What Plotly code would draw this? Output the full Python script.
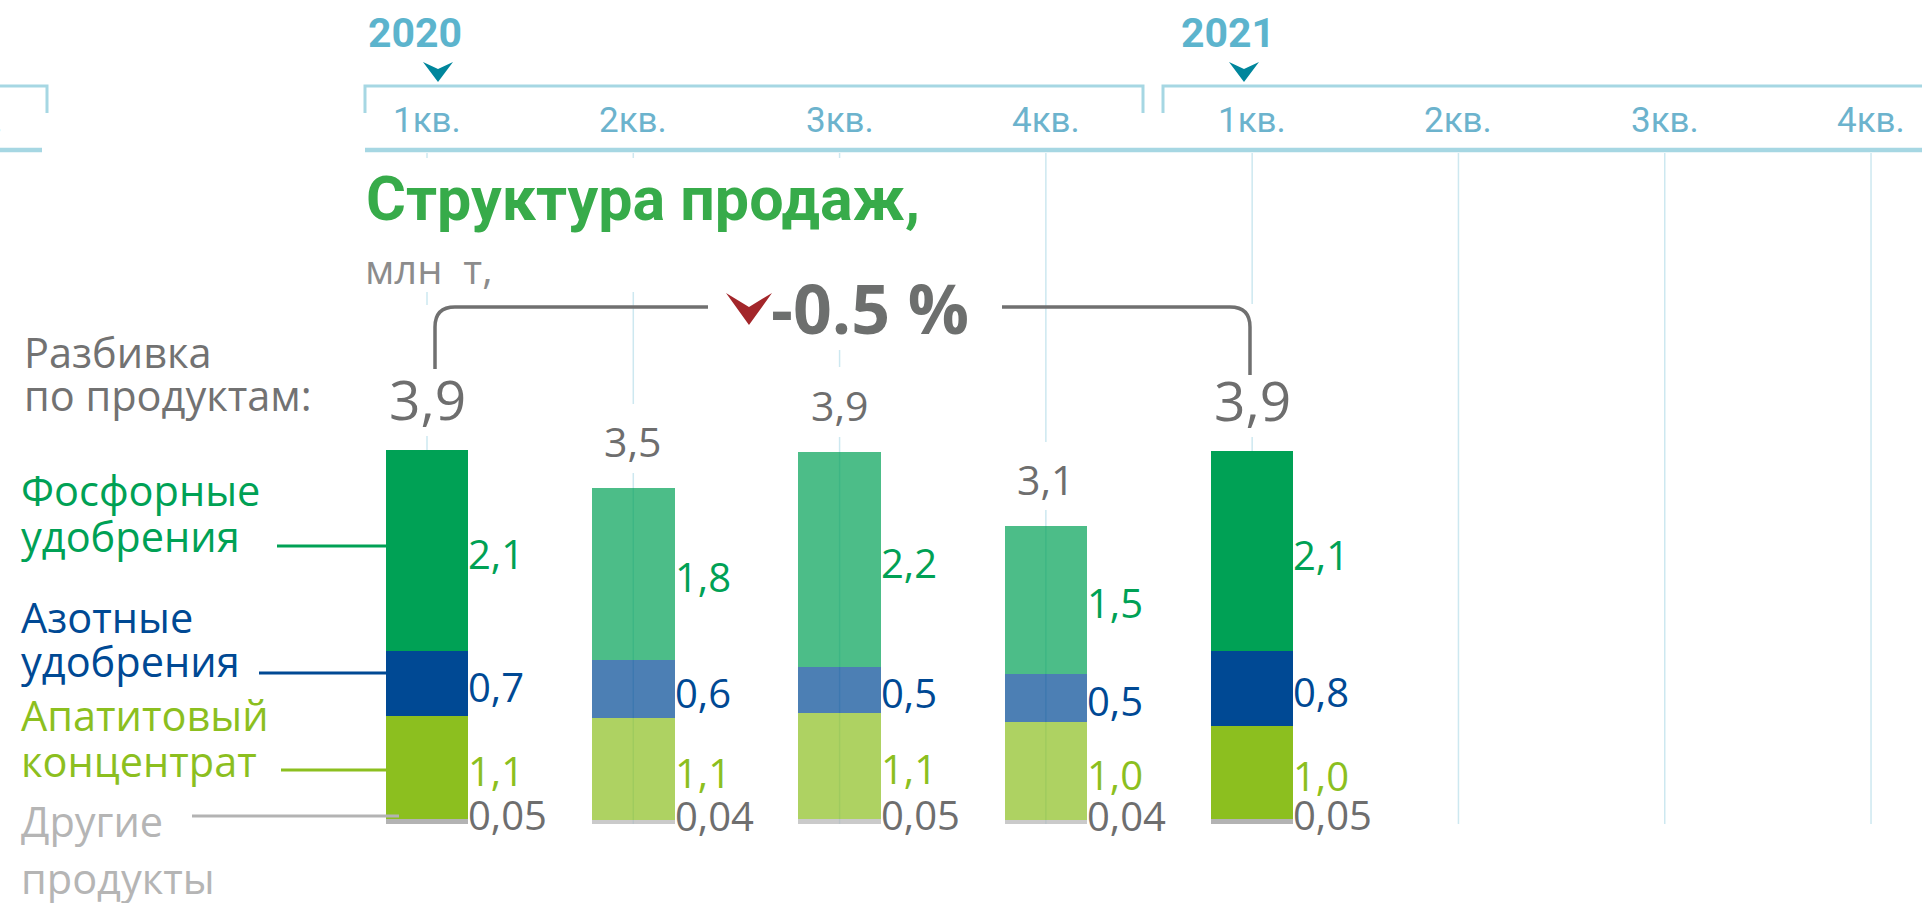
import plotly.graph_objects as go

W, H = 1922, 903

# ---------------- data ----------------
quarters = ["1кв.", "2кв.", "3кв.", "4кв.", "1кв.", "2кв.", "3кв.", "4кв."]
years = ["2020", "2021"]
bar_x = [0, 1, 2, 3, 4]
totals_lbl = ["3,9", "3,5", "3,9", "3,1", "3,9"]
other_vals = [0.05, 0.04, 0.05, 0.04, 0.05]
apatite_vals = [1.09, 1.08, 1.13, 1.04, 0.99]
nitrogen_vals = [0.69, 0.62, 0.48, 0.51, 0.79]
phosphate_vals = [2.13, 1.82, 2.28, 1.57, 2.12]
other_lbl = ["0,05", "0,04", "0,05", "0,04", "0,05"]
apatite_lbl = ["1,1", "1,1", "1,1", "1,0", "1,0"]
nitrogen_lbl = ["0,7", "0,6", "0,5", "0,5", "0,8"]
phosphate_lbl = ["2,1", "1,8", "2,2", "1,5", "2,1"]
change_lbl = "-0.5 %"
title_txt = "Структура продаж,"
unit_txt = "млн  т,"
series_names = ["Другие продукты", "Апатитовый концентрат", "Азотные удобрения", "Фосфорные удобрения"]

# ---------------- styling ----------------
C_GREEN = "#00a155"
C_BLUE = "#004994"
C_LIME = "#8cbf1f"
C_GRAY = "#b3b3b3"
C_TXT = "#6e6e6e"
C_TL = "#a6d7e3"
C_Q = "#6cb3cd"
C_GRID = "#cde8f0"
bar_opacity = [1, 0.7, 0.7, 0.7, 1]

X0, DX = 427.0, 206.29   # pixel of quarter 0, pixels per quarter
Y0, DY = 824.0, 94.4     # pixel of zero, pixels per unit


def fx(p):
    return p / W


def fy(p):
    return 1 - p / H


def path(points_cmds):
    out = []
    for cmd in points_cmds:
        c = cmd[0]
        nums = cmd[1:]
        coords = []
        for i in range(0, len(nums), 2):
            coords.append(f"{fx(nums[i]):.6f},{fy(nums[i+1]):.6f}")
        out.append(c + " " + " ".join(coords))
    return " ".join(out)


fig = go.Figure()

stack = [other_vals, apatite_vals, nitrogen_vals, phosphate_vals]
colors = [C_GRAY, C_LIME, C_BLUE, C_GREEN]
for name, vals, col in zip(series_names, stack, colors):
    fig.add_trace(go.Bar(x=bar_x, y=vals, name=name, width=0.4,
                         marker=dict(color=col, opacity=bar_opacity, line=dict(width=0)),
                         hoverinfo="skip"))

shapes = []
# vertical grid lines
for i in range(len(quarters)):
    shapes.append(dict(type="line", xref="x", yref="paper", x0=i, x1=i,
                       y0=fy(Y0), y1=fy(153), line=dict(color=C_GRID, width=1.5), layer="below"))
# white occluders hiding grid lines behind texts
occ = [(360, 930, 158, 292), (700, 990, 292, 350),
       (415, 440, 305, 436), (620, 645, 404, 473), (826, 851, 367, 437),
       (1033, 1058, 442, 510), (1240, 1264, 304, 437)]
for a, b, c, d in occ:
    shapes.append(dict(type="rect", xref="paper", yref="paper", x0=fx(a), x1=fx(b),
                       y0=fy(d), y1=fy(c), fillcolor="white", line=dict(width=0), layer="below"))

# timeline brackets
tl = dict(color=C_TL, width=3)
shapes.append(dict(type="path", xref="paper", yref="paper",
                   path=path([("M", 365, 113), ("L", 365, 86), ("L", 1143, 86), ("L", 1143, 113)]), line=tl))
shapes.append(dict(type="path", xref="paper", yref="paper",
                   path=path([("M", 1163, 113), ("L", 1163, 86), ("L", 1930, 86)]), line=tl))
shapes.append(dict(type="path", xref="paper", yref="paper",
                   path=path([("M", -5, 86), ("L", 47, 86), ("L", 47, 113)]), line=tl))
shapes.append(dict(type="line", xref="paper", yref="paper", x0=fx(365), x1=fx(1930),
                   y0=fy(150), y1=fy(150), line=dict(color=C_TL, width=4.5)))
shapes.append(dict(type="line", xref="paper", yref="paper", x0=fx(-5), x1=fx(42),
                   y0=fy(150), y1=fy(150), line=dict(color=C_TL, width=4.5)))
# teal year chevrons
for cx in (438, 1244):
    shapes.append(dict(type="path", xref="paper", yref="paper",
                       path=path([("M", cx - 15, 62), ("L", cx, 69), ("L", cx + 15, 62), ("L", cx, 82)]) + " Z",
                       fillcolor="#00869c", line=dict(width=0)))

# comparison bracket
gl = dict(color="#707070", width=3.5)
shapes.append(dict(type="path", xref="paper", yref="paper",
                   path=path([("M", 435, 369), ("L", 435, 327), ("Q", 435, 307, 455, 307), ("L", 708, 307)]),
                   line=gl, layer="above"))
shapes.append(dict(type="path", xref="paper", yref="paper",
                   path=path([("M", 1002, 307), ("L", 1230, 307), ("Q", 1250, 307, 1250, 327), ("L", 1250, 375)]),
                   line=gl, layer="above"))
# red chevron
shapes.append(dict(type="path", xref="paper", yref="paper",
                   path=path([("M", 726, 293), ("L", 749, 307), ("L", 772, 293), ("L", 749, 325)]) + " Z",
                   fillcolor="#a3262a", line=dict(width=0)))

# legend leader lines
for (xa, xb, yy, col) in [(277, 386, 546, C_GREEN), (259, 386, 673, C_BLUE),
                          (281, 386, 770, C_LIME), (192, 399, 816, C_GRAY)]:
    shapes.append(dict(type="line", xref="paper", yref="paper", x0=fx(xa), x1=fx(xb),
                       y0=fy(yy), y1=fy(yy), line=dict(color=col, width=3), layer="above"))

ann = []


def add(text, x, y, size, color, family="Open Sans", bold=False, xanchor="left",
        yanchor="middle", xref="paper", yref="paper", yshift=0, xshift=0):
    t = f"<b>{text}</b>" if bold else text
    ann.append(dict(text=t, x=x, y=y, xref=xref, yref=yref, xanchor=xanchor, yanchor=yanchor,
                    showarrow=False, font=dict(size=size, color=color, family=family),
                    yshift=yshift, xshift=xshift, borderpad=0))


COND = "Roboto"
# years
add(years[0], fx(415), fy(33), 41, "#5cb4cd", COND, True, "center")
add(years[1], fx(1228), fy(33), 41, "#5cb4cd", COND, True, "center")
# quarter labels
for i, q in enumerate(quarters):
    add(q, i, fy(121), 35, C_Q, COND, False, "center", xref="x")
add("4кв.", fx(4), fy(121), 35, C_Q, COND, False, "right")

# title
add(title_txt, fx(365), fy(199), 61, "#37ab4a", COND, True)
add(unit_txt, fx(364), fy(268), 40, "#8c8c8c", "Open Sans")

# comparison text
add(change_lbl, fx(770), fy(307), 68, "#6d6f6e", "Open Sans", True)

# left legend
LF = 41.5
add("Разбивка", fx(23), fy(352), LF, "#727272")
add("по продуктам:", fx(23), fy(395), LF, "#727272")
add("Фосфорные", fx(20), fy(490), LF, C_GREEN)
add("удобрения", fx(20), fy(536), LF, C_GREEN)
add("Азотные", fx(20), fy(617), LF, C_BLUE)
add("удобрения", fx(20), fy(661), LF, C_BLUE)
add("Апатитовый", fx(20), fy(715), LF, C_LIME)
add("концентрат", fx(20), fy(761), LF, C_LIME)
add("Другие", fx(20), fy(821), LF, "#b5b5b5")
add("продукты", fx(20), fy(878), LF, "#b5b5b5")

# value labels
seg_lbls = [other_lbl, apatite_lbl, nitrogen_lbl, phosphate_lbl]
seg_cols = ["#6e6e6e", C_LIME, C_BLUE, C_GREEN]
for i in bar_x:
    base = 0.0
    for s, (vals, lbls, col) in enumerate(zip(stack, seg_lbls, seg_cols)):
        mid = base + vals[i] / 2
        ys = 7 if s == 0 else -3
        add(lbls[i], i + 0.2, mid, 40, col, "Open Sans", False, "left",
            xref="x", yref="y", yshift=ys, xshift=-1)
        base += vals[i]
    big = i in (0, 4)
    add(totals_lbl[i], i, base, 55 if big else 41, C_TXT, "Open Sans", False, "center",
        xref="x", yref="y", yshift=52 if big else 47)

fig.update_layout(
    width=W, height=H, margin=dict(l=0, r=0, t=0, b=0),
    template="none", paper_bgcolor="white", plot_bgcolor="white",
    barmode="stack", bargap=0, showlegend=False, hovermode=False,
    xaxis=dict(range=[-X0 / DX, (W - X0) / DX], visible=False, fixedrange=True),
    yaxis=dict(range=[-(H - Y0) / DY, Y0 / DY], visible=False, fixedrange=True),
    shapes=shapes, annotations=ann,
)

fig.write_html("out.html", config={"displayModeBar": False},
               post_script="document.body.style.margin='0';document.body.style.overflow='hidden';")
